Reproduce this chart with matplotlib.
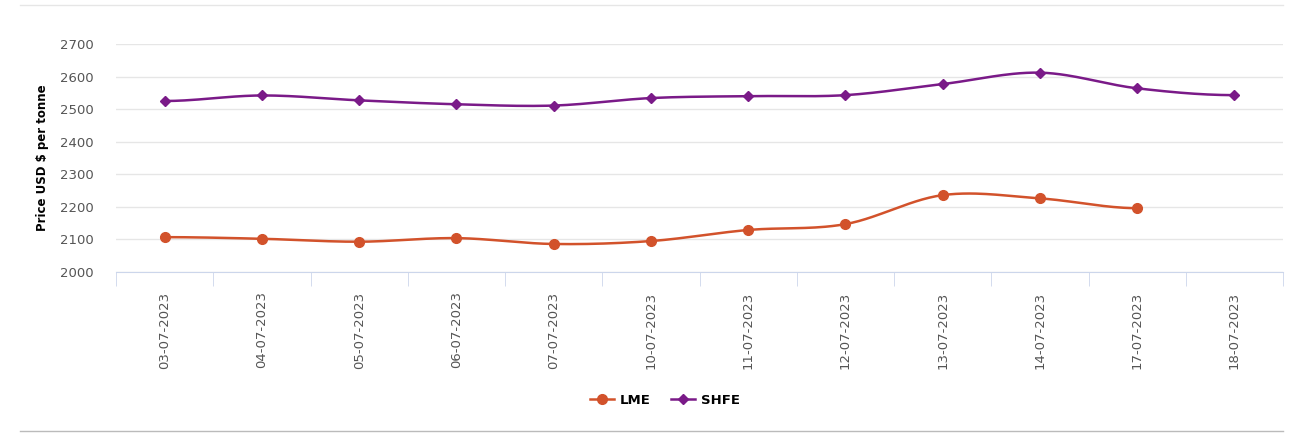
import numpy as np
import matplotlib.pyplot as plt
from matplotlib.lines import Line2D

dates = ["03-07-2023", "04-07-2023", "05-07-2023", "06-07-2023", "07-07-2023", "10-07-2023",
         "11-07-2023", "12-07-2023", "13-07-2023", "14-07-2023", "17-07-2023", "18-07-2023"]
lme = [2107, 2102, 2093, 2104, 2086, 2095, 2129, 2147, 2236, 2226, 2196]
shfe = [2525, 2542, 2527, 2515, 2511, 2534, 2540, 2543, 2577, 2612, 2564, 2543]

LME_C = "#d2522b"
SHFE_C = "#7a1a88"


def smooth(x, y, n=30):
    # Catmull-Rom style spline for the drawn curve
    x = np.asarray(x, float); y = np.asarray(y, float)
    xs, ys = [], []
    for i in range(len(x) - 1):
        m0 = (y[i + 1] - y[i - 1]) / 2 if i > 0 else 0
        m1 = (y[i + 2] - y[i]) / 2 if i + 2 < len(y) else 0
        t = np.linspace(0, 1, n)
        h00 = 2*t**3 - 3*t**2 + 1; h10 = t**3 - 2*t**2 + t
        h01 = -2*t**3 + 3*t**2; h11 = t**3 - t**2
        xs.extend(x[i] + t * (x[i + 1] - x[i]))
        ys.extend(h00*y[i] + h10*m0 + h01*y[i + 1] + h11*m1)
    return xs, ys


fig = plt.figure(figsize=(13.09, 4.38), dpi=100)
ax = fig.add_axes([116/1309, 1 - 272/438, (1283-116)/1309, 228/438])

x = np.arange(len(dates))
ax.plot(*smooth(x[:len(lme)], lme), color=LME_C, lw=1.8)
ax.plot(x[:len(lme)], lme, "o", color=LME_C, ms=7)
ax.plot(*smooth(x, shfe), color=SHFE_C, lw=1.8)
ax.plot(x, shfe, "D", color=SHFE_C, ms=5)

ax.set_xlim(-0.5, len(dates) - 0.5)
ax.set_ylim(2000, 2700)
ax.set_yticks(range(2000, 2701, 100))
ax.set_xticks(x)
ax.set_xticklabels(dates, rotation=90, color="#555555", fontsize=9.5)
ax.set_xticks(np.arange(-0.5, len(dates)), minor=True)
ax.tick_params(axis="x", which="major", length=0, pad=14)
ax.tick_params(axis="x", which="minor", length=10, color="#ccd6eb")
ax.tick_params(axis="y", length=0, colors="#555555", labelsize=9.5, pad=16)
ax.grid(axis="y", color="#e6e6e6", lw=1)
for s in ["top", "right", "left"]:
    ax.spines[s].set_visible(False)
ax.spines["bottom"].set_color("#ccd6eb")
ax.set_ylabel("Price USD $ per tonne", fontsize=8.5, fontweight="bold", labelpad=8)

handles = [Line2D([], [], color=LME_C, lw=1.8, marker="o", ms=7),
           Line2D([], [], color=SHFE_C, lw=1.8, marker="D", ms=5)]
fig.legend(handles, ["LME", "SHFE"], loc="center", bbox_to_anchor=(665/1309, 1 - 400/438),
           ncol=2, frameon=False, prop={"weight": "bold", "size": 9.5}, handlelength=1.8,
           columnspacing=1.5, handletextpad=0.5)

fig.add_artist(Line2D([20/1309, 1283/1309], [1 - 5/438] * 2, color="#e6e6e6", lw=1))
fig.add_artist(Line2D([20/1309, 1283/1309], [1 - 431/438] * 2, color="#bbbbbb", lw=1))

fig.savefig("out.png", dpi=100)
